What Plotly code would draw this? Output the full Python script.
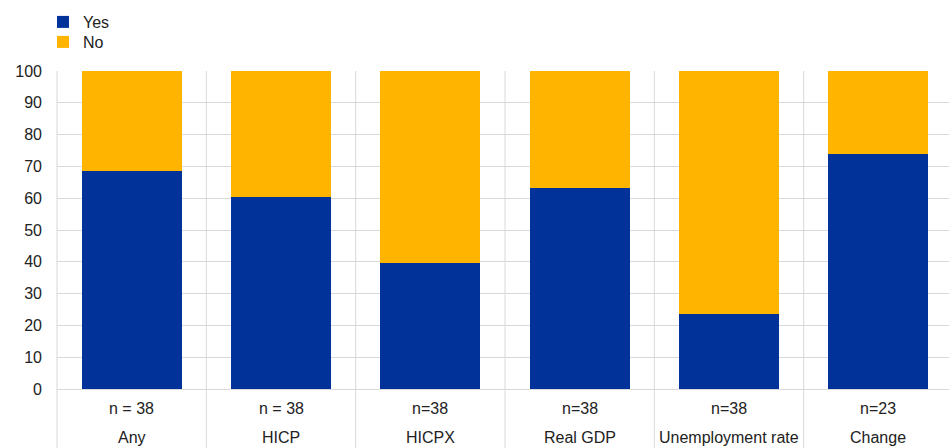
import plotly.graph_objects as go

categories = ["Any", "HICP", "HICPX", "Real GDP", "Unemployment rate", "Change"]
n_labels = ["n = 38", "n = 38", "n=38", "n=38", "n=38", "n=23"]
yes_vals = [68.4, 60.5, 39.5, 63.2, 23.7, 73.9]
no_vals = [31.6, 39.5, 60.5, 36.8, 76.3, 26.1]

BLUE = "#003299"
YELLOW = "#FFB400"
GRID = "#d9d9d9"
FONT = "Liberation Sans, Arial, sans-serif"
TXT = "#222"

W, H = 953, 448
L, T, B = 57, 71, 59
plot_h = H - T - B

fig = go.Figure()
fig.add_trace(go.Bar(x=categories, y=yes_vals, name="Yes", legend="legend",
                     marker=dict(color=BLUE, line=dict(width=0))))
fig.add_trace(go.Bar(x=categories, y=no_vals, name="No", legend="legend2",
                     marker=dict(color=YELLOW, line=dict(width=0))))

ncat = len(categories)
shapes = []
for i in range(ncat + 1):
    shapes.append(dict(type="line", xref="paper", yref="paper",
                       x0=i / ncat, x1=i / ncat, y0=-B / plot_h, y1=1,
                       line=dict(color=GRID, width=1), layer="below"))

annotations = []
for cat, nl in zip(categories, n_labels):
    annotations.append(dict(x=cat, y=0, xref="x", yref="paper", text=nl, showarrow=False,
                            yanchor="middle", yshift=-19, font=dict(size=16, color=TXT, family=FONT)))
    annotations.append(dict(x=cat, y=0, xref="x", yref="paper", text=cat, showarrow=False,
                            yanchor="middle", yshift=-48, font=dict(size=16, color=TXT, family=FONT)))

leg_common = dict(x=-14 / (W - L), xanchor="left", yanchor="top", orientation="v",
                  font=dict(size=16, color=TXT, family=FONT),
                  bgcolor="rgba(0,0,0,0)", itemclick=False)

fig.update_layout(
    width=W, height=H,
    margin=dict(l=L, r=0, t=T, b=B, autoexpand=False),
    paper_bgcolor="white", plot_bgcolor="white",
    barmode="stack", bargap=0.33,
    font=dict(family=FONT, size=16, color=TXT),
    showlegend=True,
    legend=dict(y=1 + 66 / plot_h, **leg_common),
    legend2=dict(y=1 + 46 / plot_h, **leg_common),
    xaxis=dict(showticklabels=False, showgrid=False, zeroline=False, showline=False, ticks=""),
    yaxis=dict(range=[0, 100], tickvals=list(range(0, 101, 10)), showgrid=True, gridcolor=GRID,
               gridwidth=1, zeroline=True, zerolinecolor=GRID, zerolinewidth=1, showline=False,
               ticks="", tickfont=dict(size=16, color=TXT, family=FONT), ticklabelstandoff=14),
    shapes=shapes,
    annotations=annotations,
)

fig.write_html("out.html", config={"displayModeBar": False},
               post_script="document.body.style.margin='0';document.body.style.overflow='hidden';")
